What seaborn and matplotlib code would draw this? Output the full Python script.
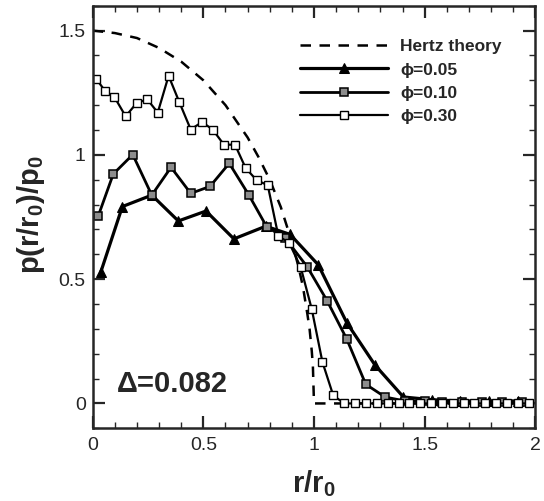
import matplotlib
matplotlib.use("Agg")
import matplotlib.pyplot as plt
from matplotlib.ticker import MultipleLocator, FuncFormatter
import seaborn as sns
import pandas as pd

# Hertz theory curve
hertz_x = [0.0, 0.1, 0.2, 0.3, 0.4, 0.5, 0.6, 0.7, 0.75, 0.8, 0.85, 0.9, 0.93, 0.95, 0.97, 0.98, 0.99, 0.995, 1.0, 1.0, 2.0]
hertz_y = [1.5, 1.49, 1.47, 1.43, 1.375, 1.3, 1.2, 1.07, 0.99, 0.9, 0.79, 0.65, 0.55, 0.47, 0.36, 0.3, 0.21, 0.15, 0.0, 0.0, 0.0]

# phi = 0.05 (filled triangles)
phi05_x = [0.036, 0.134, 0.267, 0.387, 0.512, 0.638, 0.782, 0.892, 1.019, 1.148, 1.276, 1.404,
           1.532, 1.66, 1.79, 1.92]
phi05_y = [0.527, 0.792, 0.838, 0.734, 0.774, 0.662, 0.713, 0.680, 0.558, 0.325, 0.154, 0.026,
           0.015, 0.01, 0.01, 0.01]

# phi = 0.10 (grey squares)
phi10_x = [0.025, 0.093, 0.181, 0.267, 0.354, 0.443, 0.530, 0.617, 0.706, 0.786, 0.87, 0.970,
           1.060, 1.148, 1.234, 1.321, 1.41, 1.50, 1.58, 1.67, 1.76, 1.85, 1.94]
phi10_y = [0.754, 0.923, 1.001, 0.838, 0.950, 0.845, 0.873, 0.966, 0.838, 0.711, 0.665, 0.549,
           0.412, 0.259, 0.077, 0.026, 0.01, 0.01, 0.005, 0.005, 0.005, 0.005, 0.005]

# phi = 0.30 (open squares)
phi30_x = [0.015, 0.056, 0.098, 0.149, 0.199, 0.247, 0.294, 0.343, 0.391, 0.443, 0.494, 0.542,
           0.593, 0.643, 0.691, 0.741, 0.791, 0.839, 0.888, 0.940, 0.990, 1.038, 1.087, 1.137,
           1.186, 1.235, 1.284, 1.333, 1.382, 1.431, 1.480, 1.529, 1.578, 1.627, 1.676, 1.725,
           1.774, 1.823, 1.872, 1.921, 1.970]
phi30_y = [1.307, 1.257, 1.233, 1.155, 1.209, 1.223, 1.170, 1.318, 1.213, 1.102, 1.132, 1.102,
           1.041, 1.041, 0.947, 0.898, 0.878, 0.673, 0.646, 0.548, 0.379, 0.167, 0.032, 0.0,
           0.0, 0.0, 0.0, 0.0, 0.0, 0.0, 0.0, 0.0, 0.0, 0.0, 0.0, 0.0,
           0.0, 0.0, 0.0, 0.0, 0.0]

sns.set_style("ticks")
plt.rcParams['font.family'] = ['Liberation Sans', 'DejaVu Sans']
plt.rcParams['mathtext.fontset'] = 'custom'
plt.rcParams['mathtext.rm'] = 'Liberation Sans'
plt.rcParams['mathtext.bf'] = 'Liberation Sans:bold'
plt.rcParams['mathtext.default'] = 'bf'

fig = plt.figure(figsize=(5.44, 5.01), dpi=100)
ax = fig.add_axes([0.1704, 0.1451, 0.8136, 0.8435])

hertz = pd.DataFrame({'x': hertz_x, 'y': hertz_y})
d05 = pd.DataFrame({'x': phi05_x, 'y': phi05_y})
d10 = pd.DataFrame({'x': phi10_x, 'y': phi10_y})
d30 = pd.DataFrame({'x': phi30_x, 'y': phi30_y})

sns.lineplot(data=hertz, x='x', y='y', ax=ax, sort=False, estimator=None, color='black',
             lw=1.8, dashes=False, linestyle=(0, (4.2, 3.4)), label='Hertz theory')
sns.lineplot(data=d05, x='x', y='y', ax=ax, sort=False, estimator=None, color='black',
             lw=2.3, marker='^', markersize=7.5, markerfacecolor='black',
             markeredgecolor='black', label='\u03d5=0.05')
sns.lineplot(data=d10, x='x', y='y', ax=ax, sort=False, estimator=None, color='black',
             lw=2.0, marker='s', markersize=5.5, markerfacecolor='0.55',
             markeredgecolor='black', markeredgewidth=1.1, label='\u03d5=0.10')
sns.lineplot(data=d30, x='x', y='y', ax=ax, sort=False, estimator=None, color='black',
             lw=1.6, marker='s', markersize=6, markerfacecolor='white',
             markeredgecolor='black', markeredgewidth=1.0, label='\u03d5=0.30')

ax.set_xlim(0, 2)
ax.set_ylim(-0.1, 1.6)
ax.xaxis.set_major_locator(MultipleLocator(0.5))
ax.xaxis.set_minor_locator(MultipleLocator(0.1))
ax.yaxis.set_major_locator(MultipleLocator(0.5))
ax.yaxis.set_minor_locator(MultipleLocator(0.1))
fmt = FuncFormatter(lambda v, p: '%g' % v)
ax.xaxis.set_major_formatter(fmt)
ax.yaxis.set_major_formatter(fmt)

ax.tick_params(which='both', direction='in', top=True, right=True, labelsize=14)
ax.tick_params(axis='x', which='major', length=8.5, width=1.6, pad=6)
ax.tick_params(axis='y', which='major', length=8.5, width=1.6, pad=5)
ax.tick_params(which='minor', length=4.3, width=1.0)
for s in ax.spines.values():
    s.set_linewidth(1.8)
    s.set_visible(True)

ax.set_xlabel('r/r$_0$', fontsize=21, fontweight='bold')
ax.set_ylabel('p(r/r$_0$)/p$_0$', fontsize=21, fontweight='bold')
ax.xaxis.set_label_coords(0.5, -0.095)
ax.yaxis.set_label_coords(-0.103, 0.505)

ax.text(0.11, 0.045, '\u0394=0.082', fontsize=21, fontweight='bold')

leg = ax.legend(loc='upper left', bbox_to_anchor=(0.469, 0.921), frameon=False,
                fontsize=12.5, handlelength=5.05, handletextpad=0.7, labelspacing=0.47,
                borderpad=0, borderaxespad=0)
for t in leg.get_texts():
    t.set_fontweight('bold')

fig.savefig('out.png', dpi=100)
